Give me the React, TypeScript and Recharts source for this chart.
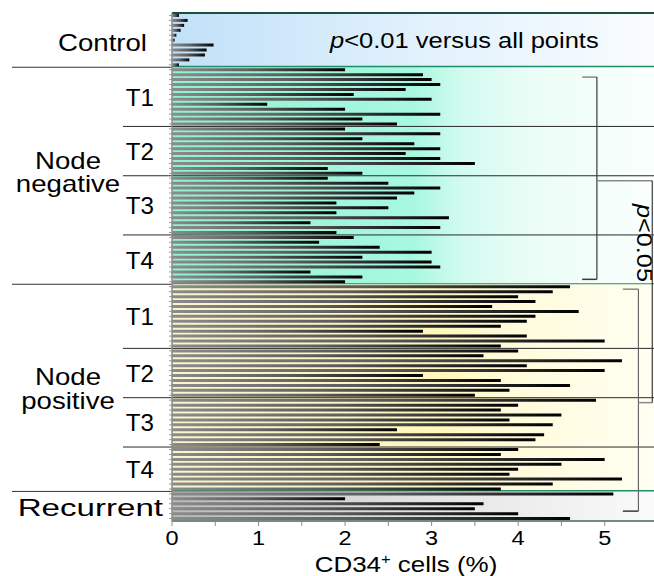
import React from 'react';
import { BarChart, Bar, XAxis, YAxis, ReferenceArea, ReferenceLine } from 'recharts';

// ---------- data (CD34+ cells, %) ----------
const controlValues = [0.08, 0.18, 0.14, 0.1, 0.05, 0.03, 0.48, 0.4, 0.38, 0.2, 0.08];
const negT1 = [2.0, 2.9, 3.0, 3.1, 2.7, 2.1, 3.0, 1.1, 2.0, 3.1, 2.2, 2.6];
const negT2 = [2.0, 3.1, 2.2, 2.8, 3.1, 2.7, 3.1, 3.5, 1.8, 2.2];
const negT3 = [1.8, 2.5, 3.1, 2.8, 2.6, 1.9, 2.5, 1.9, 3.2, 1.6, 3.1, 1.9];
const negT4 = [2.1, 1.7, 2.4, 3.0, 2.2, 3.0, 3.1, 1.6, 2.2, 2.0];
const posT1 = [4.6, 4.4, 4.0, 4.2, 3.7, 4.7, 4.2, 4.1, 3.8, 2.9, 4.1, 5.0, 3.8];
const posT2 = [4.0, 3.6, 5.2, 4.1, 5.0, 2.9, 3.8, 4.6, 3.9, 3.5];
const posT3 = [4.9, 4.0, 3.8, 4.5, 3.9, 4.4, 2.6, 4.3, 4.2, 2.4];
const posT4 = [4.0, 3.8, 5.0, 4.5, 4.0, 3.9, 5.2, 4.4, 3.8];
const recurrentValues = [5.1, 2.0, 3.6, 3.5, 4.0, 4.6];

const stageLabels = ['T1', 'T2', 'T3', 'T4'];
const xTicks = [0, 0.5, 1, 1.5, 2, 2.5, 3, 3.5, 4, 4.5, 5];
const X_MAX = 5.57;

const titleText = 'versus all points';
const bracketText = '<0.05';

// ---------- structure ----------
type Group = { label: string; values: number[] };
type Section = { key: string; title: string[]; groups: Group[]; fill: string };

const sections: Section[] = [
  { key: 'ctl', title: ['Control'], groups: [{ label: '', values: controlValues }], fill: 'url(#bgControl)' },
  {
    key: 'neg',
    title: ['Node', 'negative'],
    groups: [negT1, negT2, negT3, negT4].map((v, i) => ({ label: stageLabels[i], values: v })),
    fill: 'url(#bgNeg)',
  },
  {
    key: 'pos',
    title: ['Node', 'positive'],
    groups: [posT1, posT2, posT3, posT4].map((v, i) => ({ label: stageLabels[i], values: v })),
    fill: 'url(#bgPos)',
  },
  { key: 'rec', title: ['Recurrent'], groups: [{ label: '', values: recurrentValues }], fill: 'url(#bgRec)' },
];

const rows = sections.flatMap((s) =>
  s.groups.flatMap((g, gi) => g.values.map((v, i) => ({ id: `${s.key}-${gi}-${i}`, value: v })))
);
const groupIds = (s: Section, gi: number) => s.groups[gi].values.map((_, i) => `${s.key}-${gi}-${i}`);
const sectionIds = (s: Section) => s.groups.flatMap((_, gi) => groupIds(s, gi));

const negIds = sectionIds(sections[1]);
const posIds = sectionIds(sections[2]);
const recIds = sectionIds(sections[3]);

// ---------- style ----------
const FONT = '"Liberation Sans", Arial, Helvetica, sans-serif';
const TEAL = '#1f8c6a';
const BRACKET = '#3a3a3a';

const titleLayout: Record<string, { x: number; anchor: string; dys: number[]; sx: number }> = {
  ctl: { x: 147, anchor: 'end', dys: [11], sx: 1.2 },
  neg: { x: 68, anchor: 'middle', dys: [-7, 16], sx: 1.2 },
  pos: { x: 68, anchor: 'middle', dys: [-3, 21], sx: 1.2 },
  rec: { x: 163, anchor: 'end', dys: [10], sx: 1.44 },
};

const SText = ({ x, y, anchor = 'start', size = 23, sx = 1.2, children }: any) => (
  <text
    transform={`translate(${x},${y}) scale(${sx},1)`}
    x={0}
    y={0}
    textAnchor={anchor}
    fontFamily={FONT}
    fontSize={size}
    fill="#000"
  >
    {children}
  </text>
);

const sectionLabel = (s: Section, idx: number) => (props: any) => {
  const vb = props.viewBox;
  if (!vb) return null;
  const { x, y, width, height } = vb;
  const cy = y + height / 2;
  const bottom = y + height;
  const right = x + width;
  const lay = titleLayout[s.key];
  return (
    <g>
      {idx === 0 && <line x1={x} x2={right} y1={y} y2={y} stroke="#1b4f40" strokeWidth={2} />}
      <line x1={x} x2={right} y1={bottom} y2={bottom} stroke={TEAL} strokeWidth={idx === 0 || idx === 2 ? 3 : 2.2} />
      {idx < sections.length - 1 && <line x1={12} x2={x} y1={bottom} y2={bottom} stroke="#333" strokeWidth={1} />}
      {s.title.map((t, i) => (
        <SText key={t} x={lay.x} y={cy + lay.dys[i]} anchor={lay.anchor} sx={lay.sx}>
          {t}
        </SText>
      ))}
      {idx === 0 && (
        <text transform={`translate(330,${cy + 8}) scale(1.16,1)`} fontFamily={FONT} fontSize={22} fill="#000">
          <tspan fontStyle="italic">p</tspan>
          {'<0.01 ' + titleText}
        </text>
      )}
    </g>
  );
};

const groupLabel = (label: string, isLast: boolean) => (props: any) => {
  const vb = props.viewBox;
  if (!vb) return null;
  const { x, y, width, height } = vb;
  const cy = y + height / 2;
  const bottom = y + height;
  return (
    <g>
      {label && (
        <SText x={154} y={cy + 9} anchor="end" sx={1.05}>
          {label}
        </SText>
      )}
      {!isLast && <line x1={123} x2={x + width} y1={bottom} y2={bottom} stroke="#2a2a2a" strokeWidth={1} />}
    </g>
  );
};

const noteLabel = (props: any) => {
  const vb = props.viewBox;
  if (!vb) return null;
  const { x, y, width } = vb;
  return (
    <text
      transform={`translate(${x + width - 17},${y + 8}) rotate(90) scale(1.15,1)`}
      textAnchor="middle"
      fontFamily={FONT}
      fontSize={22}
      fill="#000"
    >
      <tspan fontStyle="italic">p</tspan>
      {bracketText}
    </text>
  );
};

const renderXTick = (props: any) => {
  const { x, y, payload } = props;
  if (!Number.isInteger(payload.value)) return <g />;
  return (
    <SText x={x} y={y + 17} anchor="middle" size={21} sx={1.12}>
      {payload.value}
    </SText>
  );
};

const xTitle = (props: any) => {
  const vb = props.viewBox;
  if (!vb) return null;
  const cx = vb.x + vb.width / 2 - 7;
  return (
    <text transform={`translate(${cx},${vb.y + 51}) scale(1.18,1)`} textAnchor="middle" fontFamily={FONT} fontSize={22} fill="#000">
      CD34
      <tspan fontSize={14} dy={-8}>
        +
      </tspan>
      <tspan dy={8}> cells (%)</tspan>
    </text>
  );
};

const B1_X = 4.91;
const B1_TICK = 4.74;
const B2_X = 5.39;
const B2_TICK = 5.21;
const LINK_X = 5.55;

export default function App() {
  return (
    <div style={{ position: 'absolute', left: 0, top: 0, width: 654, height: 576, background: '#fff' }}>
      <BarChart
        width={654}
        height={576}
        data={rows}
        layout="vertical"
        margin={{ top: 13, right: 0, bottom: 25, left: 168 }}
        barSize={3}
      >
        <defs>
          <linearGradient id="barGrad" x1="0" y1="0" x2="1" y2="0">
            <stop offset="0" stopColor="#8c8c8c" />
            <stop offset="0.45" stopColor="#5e5e5e" />
            <stop offset="0.85" stopColor="#1c1c1c" />
            <stop offset="1" stopColor="#000" />
          </linearGradient>
          <linearGradient id="bgControl" x1="0" y1="0" x2="1" y2="0">
            <stop offset="0" stopColor="#c0e1f8" />
            <stop offset="0.5" stopColor="#e1f1fc" />
            <stop offset="1" stopColor="#f9fcff" />
          </linearGradient>
          <linearGradient id="bgNeg" x1="0" y1="0" x2="1" y2="0">
            <stop offset="0" stopColor="#8ef2d3" />
            <stop offset="0.5" stopColor="#a8f8e0" />
            <stop offset="0.6" stopColor="#d2fbef" />
            <stop offset="0.75" stopColor="#ebfdf7" />
            <stop offset="1" stopColor="#fafffd" />
          </linearGradient>
          <linearGradient id="bgPos" x1="0" y1="0" x2="1" y2="0">
            <stop offset="0" stopColor="#faf5cc" />
            <stop offset="0.55" stopColor="#fff7bd" />
            <stop offset="0.7" stopColor="#fffbda" />
            <stop offset="1" stopColor="#fffff2" />
          </linearGradient>
          <linearGradient id="bgRec" x1="0" y1="0" x2="1" y2="0">
            <stop offset="0" stopColor="#bababa" />
            <stop offset="0.5" stopColor="#e2e2e2" />
            <stop offset="1" stopColor="#fafafa" />
          </linearGradient>
        </defs>

        {sections.map((s, idx) => {
          const ids = sectionIds(s);
          return (
            <ReferenceArea
              key={s.key}
              y1={ids[0]}
              y2={ids[ids.length - 1]}
              fill={s.fill}
              fillOpacity={1}
              stroke="none"
              label={sectionLabel(s, idx)}
            />
          );
        })}
        {sections.flatMap((s) =>
          s.groups.map((g, gi) => {
            const ids = groupIds(s, gi);
            return (
              <ReferenceArea
                key={`${s.key}-g${gi}`}
                y1={ids[0]}
                y2={ids[ids.length - 1]}
                fill="none"
                fillOpacity={0}
                stroke="none"
                label={groupLabel(g.label, gi === s.groups.length - 1)}
              />
            );
          })
        )}

        <XAxis
          type="number"
          domain={[0, X_MAX]}
          ticks={xTicks}
          interval={0}
          allowDataOverflow
          tickSize={5}
          tickLine={{ stroke: '#8a8a8a' }}
          axisLine={{ stroke: '#8a8a8a', strokeWidth: 1.5 }}
          tick={renderXTick}
          height={30}
          label={{ content: xTitle }}
        />
        <YAxis
          type="category"
          dataKey="id"
          width={4}
          interval={0}
          tickSize={3}
          tickLine={{ stroke: '#9a9a9a' }}
          axisLine={{ stroke: '#8a8a8a', strokeWidth: 1.5 }}
          tick={() => <g />}
        />

        <Bar dataKey="value" fill="url(#barGrad)" isAnimationActive={false} />

        {/* bracket: node negative */}
        <ReferenceLine segment={[{ x: B1_TICK, y: negIds[1] }, { x: B1_X, y: negIds[1] }]} position="end" stroke="#888" strokeWidth={1.5} ifOverflow="visible" />
        <ReferenceLine segment={[{ x: B1_X, y: negIds[1] }, { x: B1_X, y: negIds[42] }]} position="end" stroke={BRACKET} strokeWidth={1.2} ifOverflow="visible" />
        <ReferenceLine segment={[{ x: B1_TICK, y: negIds[42] }, { x: B1_X, y: negIds[42] }]} position="end" stroke={BRACKET} strokeWidth={1.5} ifOverflow="visible" />
        {/* bracket: node positive + recurrent */}
        <ReferenceLine segment={[{ x: B2_TICK, y: posIds[1] }, { x: B2_X, y: posIds[1] }]} position="start" stroke="#888" strokeWidth={1.5} ifOverflow="visible" />
        <ReferenceLine segment={[{ x: B2_X, y: posIds[1] }, { x: B2_X, y: recIds[4] }]} position="start" stroke="#666" strokeWidth={1.2} ifOverflow="visible" />
        <ReferenceLine segment={[{ x: B2_TICK, y: recIds[4] }, { x: B2_X, y: recIds[4] }]} position="start" stroke={BRACKET} strokeWidth={1.5} ifOverflow="visible" />
        {/* link between brackets */}
        <ReferenceLine segment={[{ x: B1_X, y: negIds[22] }, { x: LINK_X, y: negIds[22] }]} position="end" stroke="#888" strokeWidth={1.5} ifOverflow="visible" />
        <ReferenceLine segment={[{ x: LINK_X, y: negIds[22] }, { x: LINK_X, y: posIds[23] }]} position="end" stroke={BRACKET} strokeWidth={1.2} ifOverflow="visible" />
        <ReferenceLine segment={[{ x: B2_X, y: posIds[23] }, { x: LINK_X, y: posIds[23] }]} position="end" stroke="#888" strokeWidth={1.5} ifOverflow="visible" />

        <ReferenceArea y1={negIds[34]} y2={negIds[34]} fill="none" fillOpacity={0} stroke="none" label={noteLabel} />
      </BarChart>
    </div>
  );
}
